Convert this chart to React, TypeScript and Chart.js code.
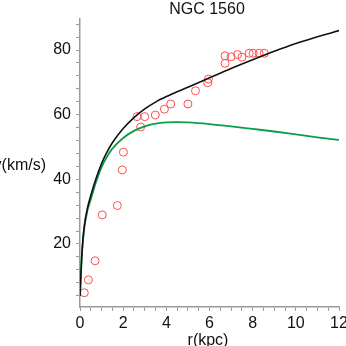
import React, { useEffect, useRef } from "react";
import { Chart, registerables } from "chart.js";
Chart.register(...registerables);

const titleText = "NGC 1560";
const xTitle = "r(kpc)";
const yTitle = "v(km/s)";

// observed rotation curve (red circles)
const rObs = [0.2, 0.39, 0.7, 1.03, 1.73, 1.96, 2.01, 2.64, 2.81, 3.0, 3.49, 3.91, 4.2, 5.0, 5.35, 5.92, 5.95, 6.72, 6.72, 7.0, 7.3, 7.5, 7.84, 8.02, 8.3, 8.54];
const vObs = [4.9, 8.9, 14.8, 29.0, 31.9, 42.9, 48.4, 59.4, 56.2, 59.4, 59.9, 61.7, 63.3, 63.3, 67.4, 69.9, 71.0, 75.9, 78.2, 77.9, 78.6, 77.8, 79.0, 79.0, 79.0, 79.0];

// black model curve
const rBlack = [0, 0.05, 0.1, 0.2, 0.35, 0.5, 0.75, 1.0, 1.25, 1.5, 2.0, 2.5, 3.0, 3.5, 4.0, 4.5, 5.0, 6.0, 7.0, 8.0, 9.0, 10.0, 11.0, 12.0];
const vBlack = [4, 11.8, 18.3, 25.6, 31.2, 35.0, 40.4, 44.9, 48.4, 51.3, 55.7, 59.1, 61.8, 63.9, 65.6, 67.1, 68.5, 71.4, 74.3, 77.0, 79.6, 82.0, 84.1, 86.0];

// green model curve
const rGreen = [0, 0.05, 0.1, 0.2, 0.35, 0.5, 0.75, 1.0, 1.25, 1.5, 2.0, 2.5, 3.0, 3.5, 4.0, 4.5, 5.0, 6.0, 7.0, 8.0, 9.0, 10.0, 11.0, 12.0];
const vGreen = [4, 11.5, 18.0, 25.0, 30.5, 33.8, 39.3, 43.8, 47.0, 49.5, 52.8, 55.0, 56.4, 57.2, 57.6, 57.7, 57.6, 57.1, 56.4, 55.6, 54.8, 53.9, 53.0, 52.2];

const xTickLabels = [0, 2, 4, 6, 8, 10, 12];
const yTickLabels = [20, 40, 60, 80];
const xMinorStep = 0.5;
const yMinorStep = 4;

const FONT = "'Liberation Sans', Arial, Helvetica, sans-serif";

const textPlugin = {
  id: "texts",
  afterDraw(chart: any) {
    const ctx = chart.ctx;
    const area = chart.chartArea;
    ctx.save();
    ctx.fillStyle = "#111";
    ctx.font = `16px ${FONT}`;
    ctx.textAlign = "center";
    ctx.textBaseline = "alphabetic";
    ctx.fillText(titleText, 207, 14);
    ctx.fillText(xTitle, 208, 345);
    ctx.textAlign = "right";
    ctx.fillText(yTitle, 46, 170);
    ctx.restore();
  },
};

export default function App() {
  const ref = useRef<HTMLCanvasElement | null>(null);
  useEffect(() => {
    if (!ref.current) return;
    const chart = new Chart(ref.current, {
      type: "scatter",
      data: {
        datasets: [
          {
            type: "line",
            data: rBlack.map((r, i) => ({ x: r, y: vBlack[i] })),
            borderColor: "#111",
            borderWidth: 1.6,
            pointRadius: 0,
            cubicInterpolationMode: "monotone",
            fill: false,
          } as any,
          {
            type: "line",
            data: rGreen.map((r, i) => ({ x: r, y: vGreen[i] })),
            borderColor: "#0a9e4a",
            borderWidth: 1.8,
            pointRadius: 0,
            cubicInterpolationMode: "monotone",
            fill: false,
          } as any,
          {
            data: rObs.map((r, i) => ({ x: r, y: vObs[i] })),
            borderColor: "#ff4d4d",
            backgroundColor: "rgba(0,0,0,0)",
            borderWidth: 1,
            pointRadius: 4,
            pointStyle: "circle",
          },
        ],
      },
      options: {
        animation: false,
        responsive: false,
        layout: { padding: { top: 19, right: 7, left: 0, bottom: 0 } },
        plugins: { legend: { display: false }, tooltip: { enabled: false } },
        scales: {
          x: {
            type: "linear",
            min: 0,
            max: 12,
            afterBuildTicks: (scale: any) => {
              const t = [];
              for (let v = 0; v <= 12 + 1e-9; v += xMinorStep) t.push({ value: v });
              scale.ticks = t;
            },
            afterFit: (scale: any) => {
              scale.height = 39;
              scale.paddingLeft = 0;
              scale.paddingRight = 0;
            },
            ticks: {
              autoSkip: false,
              maxRotation: 0,
              padding: 3,
              color: "#111",
              font: { family: FONT, size: 16 },
              callback: (v: any) => (xTickLabels.includes(Number(v)) ? String(v) : ""),
            },
            grid: { drawOnChartArea: false, drawTicks: true, tickLength: 4, color: "#9a9a9a", lineWidth: 1 },
            border: { display: true, color: "#9a9a9a", width: 1.5 },
          },
          y: {
            type: "linear",
            min: 0.5,
            max: 89.6,
            afterBuildTicks: (scale: any) => {
              const t = [];
              for (let v = yMinorStep; v <= 88; v += yMinorStep) t.push({ value: v });
              scale.ticks = t;
            },
            afterFit: (scale: any) => {
              scale.width = 80;
              scale.paddingTop = 0;
              scale.paddingBottom = 0;
            },
            ticks: {
              autoSkip: false,
              padding: 5,
              color: "#111",
              font: { family: FONT, size: 16 },
              callback: (v: any) => (yTickLabels.includes(Number(v)) ? String(v) : ""),
            },
            grid: { drawOnChartArea: false, drawTicks: true, tickLength: 4, color: "#9a9a9a", lineWidth: 1 },
            border: { display: true, color: "#9a9a9a", width: 1.5 },
          },
        },
      },
      plugins: [textPlugin],
    } as any);
    return () => chart.destroy();
  }, []);
  return (
    <canvas
      ref={ref}
      width={346}
      height={346}
      style={{ position: "fixed", left: 0, top: 0, width: 346, height: 346 }}
    />
  );
}
